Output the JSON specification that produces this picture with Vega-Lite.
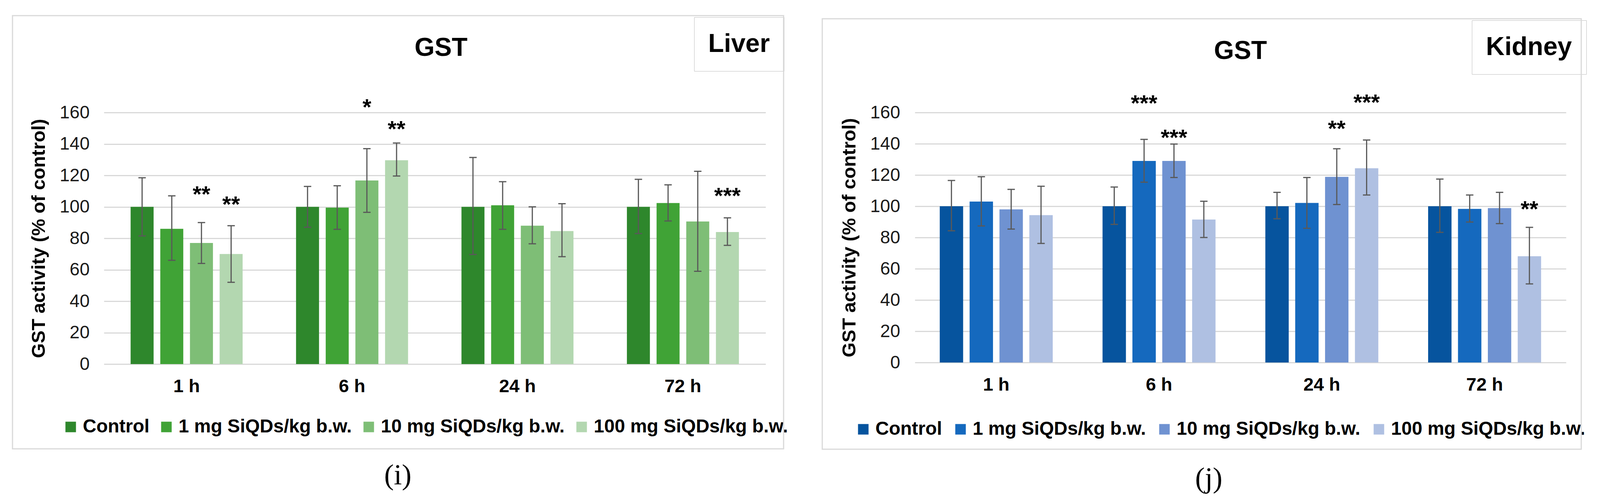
{
  "$schema": "https://vega.github.io/schema/vega-lite/v6.json",
  "background": "white",
  "padding": {"left": 32, "top": 40, "right": 10, "bottom": 20},
  "spacing": 87,
  "align": "none",
  "bounds": "full",
  "config": {
    "font": "Liberation Sans",
    "view": {"stroke": null},
    "axis": {"labelColor": "#1a1a1a", "titleColor": "#000000", "labelFont": "Liberation Sans", "titleFont": "Liberation Sans"},
    "legend": {"labelColor": "#000000", "labelFont": "Liberation Sans", "gradientHorizontalMaxLength": 5000, "gradientHorizontalMinLength": 10}
  },
  "datasets": {
    "liver": [
      {"time": "1 h", "group": "Control", "organ": "Liver", "value": 100, "lo": 81.5, "hi": 118.5},
      {"time": "1 h", "group": "1 mg SiQDs/kg b.w.", "organ": "Liver", "value": 86, "lo": 66, "hi": 107},
      {"time": "1 h", "group": "10 mg SiQDs/kg b.w.", "organ": "Liver", "value": 77, "lo": 64, "hi": 90, "sig": "**", "starY": 110.5},
      {"time": "1 h", "group": "100 mg SiQDs/kg b.w.", "organ": "Liver", "value": 70, "lo": 52, "hi": 88, "sig": "**", "starY": 104},
      {"time": "6 h", "group": "Control", "organ": "Liver", "value": 100, "lo": 87, "hi": 113},
      {"time": "6 h", "group": "1 mg SiQDs/kg b.w.", "organ": "Liver", "value": 99.5, "lo": 85.7, "hi": 113.4},
      {"time": "6 h", "group": "10 mg SiQDs/kg b.w.", "organ": "Liver", "value": 116.8, "lo": 96.5, "hi": 137, "sig": "*", "starY": 166},
      {"time": "6 h", "group": "100 mg SiQDs/kg b.w.", "organ": "Liver", "value": 129.6, "lo": 119.6, "hi": 140.6, "sig": "**", "starY": 152},
      {"time": "24 h", "group": "Control", "organ": "Liver", "value": 100, "lo": 69.7, "hi": 131.4},
      {"time": "24 h", "group": "1 mg SiQDs/kg b.w.", "organ": "Liver", "value": 101, "lo": 85.7, "hi": 116},
      {"time": "24 h", "group": "10 mg SiQDs/kg b.w.", "organ": "Liver", "value": 88, "lo": 76.5, "hi": 100},
      {"time": "24 h", "group": "100 mg SiQDs/kg b.w.", "organ": "Liver", "value": 84.6, "lo": 68.3, "hi": 102},
      {"time": "72 h", "group": "Control", "organ": "Liver", "value": 100, "lo": 83, "hi": 117.5},
      {"time": "72 h", "group": "1 mg SiQDs/kg b.w.", "organ": "Liver", "value": 102.4, "lo": 91, "hi": 114},
      {"time": "72 h", "group": "10 mg SiQDs/kg b.w.", "organ": "Liver", "value": 90.7, "lo": 59, "hi": 122.6},
      {"time": "72 h", "group": "100 mg SiQDs/kg b.w.", "organ": "Liver", "value": 84, "lo": 75.5, "hi": 93, "sig": "***", "starY": 109.5}
    ],
    "kidney": [
      {"time": "1 h", "group": "Control", "organ": "Kidney", "value": 100, "lo": 84.3, "hi": 116.5},
      {"time": "1 h", "group": "1 mg SiQDs/kg b.w.", "organ": "Kidney", "value": 103, "lo": 87.4, "hi": 118.9},
      {"time": "1 h", "group": "10 mg SiQDs/kg b.w.", "organ": "Kidney", "value": 98, "lo": 85.4, "hi": 110.8},
      {"time": "1 h", "group": "100 mg SiQDs/kg b.w.", "organ": "Kidney", "value": 94.3, "lo": 76.2, "hi": 112.8},
      {"time": "6 h", "group": "Control", "organ": "Kidney", "value": 100, "lo": 88.4, "hi": 112.3},
      {"time": "6 h", "group": "1 mg SiQDs/kg b.w.", "organ": "Kidney", "value": 129, "lo": 115.4, "hi": 142.8, "sig": "***", "starY": 168.5},
      {"time": "6 h", "group": "10 mg SiQDs/kg b.w.", "organ": "Kidney", "value": 129, "lo": 118.4, "hi": 139.8, "sig": "***", "starY": 146.6},
      {"time": "6 h", "group": "100 mg SiQDs/kg b.w.", "organ": "Kidney", "value": 91.5, "lo": 80, "hi": 103.2},
      {"time": "24 h", "group": "Control", "organ": "Kidney", "value": 100, "lo": 92, "hi": 108.9},
      {"time": "24 h", "group": "1 mg SiQDs/kg b.w.", "organ": "Kidney", "value": 102.1, "lo": 85.9, "hi": 118.4},
      {"time": "24 h", "group": "10 mg SiQDs/kg b.w.", "organ": "Kidney", "value": 118.8, "lo": 101.1, "hi": 136.8, "sig": "**", "starY": 152.2},
      {"time": "24 h", "group": "100 mg SiQDs/kg b.w.", "organ": "Kidney", "value": 124.3, "lo": 107.2, "hi": 142.4, "sig": "***", "starY": 169},
      {"time": "72 h", "group": "Control", "organ": "Kidney", "value": 100, "lo": 83.3, "hi": 117.4},
      {"time": "72 h", "group": "1 mg SiQDs/kg b.w.", "organ": "Kidney", "value": 98.3, "lo": 89.9, "hi": 107.2},
      {"time": "72 h", "group": "10 mg SiQDs/kg b.w.", "organ": "Kidney", "value": 98.8, "lo": 88.9, "hi": 108.9},
      {"time": "72 h", "group": "100 mg SiQDs/kg b.w.", "organ": "Kidney", "value": 68, "lo": 50.3, "hi": 86.5, "sig": "**", "starY": 100.8}
    ]
  },
  "resolve": {"scale": {"color": "independent", "opacity": "independent", "stroke": "independent", "x": "independent", "y": "independent", "xOffset": "independent"}},
  "hconcat": [
    {
      "width": 1694,
      "height": 644,
      "data": {"name": "liver"},
      "title": {"text": "GST", "fontSize": 66, "fontWeight": "bold", "frame": "group", "anchor": "middle", "baseline": "alphabetic", "offset": -169, "dx": 16, "color": "#000000"},
      "encoding": {
        "x": {
          "field": "time", "type": "nominal", "sort": ["1 h", "6 h", "24 h", "72 h"],
          "scale": {"paddingInner": 0, "paddingOuter": 0},
          "axis": {"title": "(i)", "titleFont": "Liberation Serif", "titleFontSize": 74, "titleFontWeight": "normal", "titleX": 752, "titleY": 285, "titleBaseline": "middle", "titleAlign": "center", "labelAngle": 0, "labelFontSize": 47, "labelFontWeight": "bold", "labelPadding": 34, "ticks": false, "domain": false, "labelColor": "#000000"}
        },
        "xOffset": {
          "field": "group", "type": "nominal",
          "sort": ["Control", "1 mg SiQDs/kg b.w.", "10 mg SiQDs/kg b.w.", "100 mg SiQDs/kg b.w."],
          "scale": {"domain": ["Control", "1 mg SiQDs/kg b.w.", "10 mg SiQDs/kg b.w.", "100 mg SiQDs/kg b.w."], "paddingInner": 0.225, "paddingOuter": 0.9}
        }
      },
      "layer": [
        {
          "mark": {"type": "bar"},
          "encoding": {
            "y": {"field": "value", "type": "quantitative", "title": "GST activity (% of control)",
              "scale": {"domain": [0, 160]},
              "axis": {"values": [0, 20, 40, 60, 80, 100, 120, 140, 160], "grid": true, "gridColor": "#d9d9d9", "gridWidth": 3, "domain": false, "ticks": false, "labelFontSize": 46, "labelPadding": 37, "titleFontSize": 49, "titleFontWeight": "bold", "titlePadding": 28}},
            "color": {"field": "group", "type": "nominal",
              "scale": {"domain": ["Control", "1 mg SiQDs/kg b.w.", "10 mg SiQDs/kg b.w.", "100 mg SiQDs/kg b.w."], "range": ["#2e872c", "#40a336", "#7ebe76", "#b3d7b0"]},
              "legend": {"orient": "none", "legendX": -109, "legendY": 781, "direction": "horizontal", "title": null, "symbolType": "square", "symbolSize": 729, "symbolStrokeWidth": 0, "labelFontSize": 48, "labelFontWeight": "bold", "labelOffset": 7, "columnPadding": 19, "labelLimit": 1000, "padding": 0}},
            "opacity": {"field": "organ", "type": "nominal", "scale": {"domain": ["Liver"], "range": [1]},
              "legend": {"orient": "none", "legendX": 1511, "legendY": -244, "title": null, "symbolSize": 0, "symbolOpacity": 0, "symbolStrokeWidth": 0, "labelOffset": -66, "labelFontSize": 66, "labelFontWeight": "bold", "labelLimit": 1000, "padding": 36, "strokeColor": "#bfbfbf"}}
          }
        },
        {
          "mark": {"type": "rule", "color": "#595959", "strokeWidth": 3},
          "encoding": {"y": {"field": "lo", "type": "quantitative", "title": "GST activity (% of control)"}, "y2": {"field": "hi"}}
        },
        {
          "mark": {"type": "tick", "orient": "horizontal", "color": "#595959", "size": 19, "thickness": 3, "opacity": 1},
          "encoding": {"y": {"field": "lo", "type": "quantitative", "title": "GST activity (% of control)"}}
        },
        {
          "mark": {"type": "tick", "orient": "horizontal", "color": "#595959", "size": 19, "thickness": 3, "opacity": 1},
          "encoding": {"y": {"field": "hi", "type": "quantitative", "title": "GST activity (% of control)"}}
        },
        {
          "mark": {"type": "text", "fontSize": 58, "fontWeight": "bold", "baseline": "alphabetic", "dy": 30, "color": "#000000", "strokeWidth": 0},
          "encoding": {
            "y": {"field": "starY", "type": "quantitative", "title": "GST activity (% of control)"},
            "text": {"field": "sig"},
            "stroke": {"field": "value", "type": "quantitative", "scale": {"range": ["rgba(255,255,255,0)", "rgba(255,255,255,0)"]},
              "legend": {"orient": "none", "legendX": -234, "legendY": -248, "direction": "horizontal", "title": null, "gradientLength": 1974, "gradientThickness": 1109, "gradientStrokeColor": "#d9d9d9", "gradientStrokeWidth": 3, "labelOpacity": 0, "labelFontSize": 1, "labelOffset": 0, "padding": 0, "tickCount": 2}}
          }
        }
      ]
    },
    {
      "width": 1667,
      "height": 640,
      "data": {"name": "kidney"},
      "title": {"text": "GST", "fontSize": 66, "fontWeight": "bold", "frame": "group", "anchor": "middle", "baseline": "alphabetic", "offset": -169, "dx": 0, "color": "#000000"},
      "encoding": {
        "x": {
          "field": "time", "type": "nominal", "sort": ["1 h", "6 h", "24 h", "72 h"],
          "scale": {"paddingInner": 0, "paddingOuter": 0},
          "axis": {"title": "(j)", "titleFont": "Liberation Serif", "titleFontSize": 74, "titleFontWeight": "normal", "titleX": 752, "titleY": 297, "titleBaseline": "middle", "titleAlign": "center", "labelAngle": 0, "labelFontSize": 47, "labelFontWeight": "bold", "labelPadding": 34, "ticks": false, "domain": false, "labelColor": "#000000"}
        },
        "xOffset": {
          "field": "group", "type": "nominal",
          "sort": ["Control", "1 mg SiQDs/kg b.w.", "10 mg SiQDs/kg b.w.", "100 mg SiQDs/kg b.w."],
          "scale": {"domain": ["Control", "1 mg SiQDs/kg b.w.", "10 mg SiQDs/kg b.w.", "100 mg SiQDs/kg b.w."], "paddingInner": 0.217, "paddingOuter": 0.834}
        }
      },
      "layer": [
        {
          "mark": {"type": "bar"},
          "encoding": {
            "y": {"field": "value", "type": "quantitative", "title": "GST activity (% of control)",
              "scale": {"domain": [0, 160]},
              "axis": {"values": [0, 20, 40, 60, 80, 100, 120, 140, 160], "grid": true, "gridColor": "#d9d9d9", "gridWidth": 3, "domain": false, "ticks": false, "labelFontSize": 46, "labelPadding": 38, "titleFontSize": 49, "titleFontWeight": "bold", "titlePadding": 28}},
            "color": {"field": "group", "type": "nominal",
              "scale": {"domain": ["Control", "1 mg SiQDs/kg b.w.", "10 mg SiQDs/kg b.w.", "100 mg SiQDs/kg b.w."], "range": ["#06549e", "#1569be", "#6f92d1", "#afc0e2"]},
              "legend": {"orient": "none", "legendX": -156, "legendY": 787, "direction": "horizontal", "title": null, "symbolType": "square", "symbolSize": 729, "symbolStrokeWidth": 0, "labelFontSize": 48, "labelFontWeight": "bold", "labelOffset": 7, "columnPadding": 23, "labelLimit": 1000, "padding": 0}},
            "opacity": {"field": "organ", "type": "nominal", "scale": {"domain": ["Kidney"], "range": [1]},
              "legend": {"orient": "none", "legendX": 1426, "legendY": -236, "title": null, "symbolSize": 0, "symbolOpacity": 0, "symbolStrokeWidth": 0, "labelOffset": -66, "labelFontSize": 66, "labelFontWeight": "bold", "labelLimit": 1000, "padding": 36, "strokeColor": "#bfbfbf"}}
          }
        },
        {
          "mark": {"type": "rule", "color": "#595959", "strokeWidth": 3},
          "encoding": {"y": {"field": "lo", "type": "quantitative", "title": "GST activity (% of control)"}, "y2": {"field": "hi"}}
        },
        {
          "mark": {"type": "tick", "orient": "horizontal", "color": "#595959", "size": 19, "thickness": 3, "opacity": 1},
          "encoding": {"y": {"field": "lo", "type": "quantitative", "title": "GST activity (% of control)"}}
        },
        {
          "mark": {"type": "tick", "orient": "horizontal", "color": "#595959", "size": 19, "thickness": 3, "opacity": 1},
          "encoding": {"y": {"field": "hi", "type": "quantitative", "title": "GST activity (% of control)"}}
        },
        {
          "mark": {"type": "text", "fontSize": 58, "fontWeight": "bold", "baseline": "alphabetic", "dy": 30, "color": "#000000", "strokeWidth": 0},
          "encoding": {
            "y": {"field": "starY", "type": "quantitative", "title": "GST activity (% of control)"},
            "text": {"field": "sig"},
            "stroke": {"field": "value", "type": "quantitative", "scale": {"range": ["rgba(255,255,255,0)", "rgba(255,255,255,0)"]},
              "legend": {"orient": "none", "legendX": -237, "legendY": -240, "direction": "horizontal", "title": null, "gradientLength": 1943, "gradientThickness": 1102, "gradientStrokeColor": "#d9d9d9", "gradientStrokeWidth": 3, "labelOpacity": 0, "labelFontSize": 1, "labelOffset": 0, "padding": 0, "tickCount": 2}}
          }
        }
      ]
    }
  ]
}
